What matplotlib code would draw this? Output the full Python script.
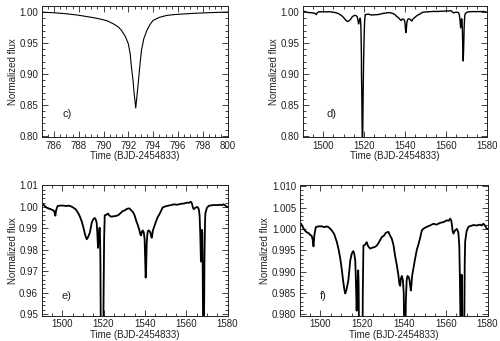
import matplotlib
matplotlib.use('Agg')
import matplotlib.pyplot as plt
from matplotlib.ticker import MultipleLocator, FormatStrFormatter

plt.rcParams['font.family'] = ['Liberation Sans', 'DejaVu Sans']
plt.rcParams['font.size'] = 7

# panel c) : single eclipse, zoomed in time
time_c = [785.0, 786.0, 787.0, 788.0, 788.6, 789.2, 789.7, 790.3, 790.8, 791.2,
          791.45, 791.75, 792.0, 792.15, 792.25, 792.38, 792.47, 792.6, 792.7, 792.8,
          792.93, 793.06, 793.25, 793.5, 793.75, 794.0, 794.5, 795.1, 795.8, 796.7,
          797.5, 798.4, 799.2, 800.0]
flux_c = [1.0000, 0.9990, 0.9974, 0.9950, 0.9930, 0.9910, 0.9890, 0.9860, 0.9810, 0.9760,
          0.9705, 0.9610, 0.9490, 0.9330, 0.9120, 0.8900, 0.8690, 0.8450, 0.8650, 0.8850,
          0.9130, 0.9380, 0.9570, 0.9705, 0.9800, 0.9866, 0.9915, 0.9947, 0.9962, 0.9974,
          0.9983, 0.9990, 0.9996, 1.0000]

# panels d), e), f) : the same light curve, different flux ranges
time = [1490.0, 1490.8, 1491.8, 1492.6, 1493.5, 1494.4, 1495.1, 1495.8, 1496.3, 1496.7,
        1497.1, 1497.8, 1499.0, 1500.7, 1502.0, 1503.0, 1503.9, 1504.8, 1505.5, 1506.6,
        1507.9, 1508.8, 1509.6, 1510.3, 1510.9, 1511.5, 1511.9, 1512.4, 1512.9, 1513.4,
        1513.9, 1514.3, 1514.9, 1515.4, 1515.8, 1516.2, 1516.7, 1517.0, 1517.2, 1517.35,
        1517.5, 1517.8, 1518.1, 1518.3, 1518.5, 1518.65, 1518.75, 1518.77, 1518.95, 1519.15,
        1519.35, 1519.55, 1519.8, 1520.05, 1520.3, 1520.6, 1521.2, 1521.8, 1522.2, 1522.8,
        1523.8, 1524.8, 1526.2, 1527.2, 1528.4, 1529.4, 1530.4, 1531.2, 1531.8, 1532.6,
        1533.4, 1534.2, 1535.0, 1535.8, 1536.6, 1537.4, 1537.8, 1538.2, 1538.6, 1539.0,
        1539.5, 1539.9, 1540.2, 1540.4, 1540.6, 1540.9, 1541.3, 1541.7, 1542.2, 1542.6,
        1543.0, 1543.3, 1543.6, 1543.9, 1544.6, 1545.4, 1546.2, 1546.9, 1547.8, 1548.6,
        1549.8, 1551.0, 1552.5, 1554.1, 1555.6, 1557.3, 1559.0, 1560.5, 1561.4, 1562.1,
        1562.6, 1562.9, 1563.3, 1563.7, 1564.4, 1565.3, 1565.8, 1566.1, 1566.5, 1566.8,
        1567.0, 1567.15, 1567.3, 1567.6, 1567.8, 1568.0, 1568.2, 1568.4, 1568.6, 1568.85,
        1569.1, 1569.3, 1570.0, 1570.9, 1572.0, 1573.3, 1574.8, 1576.5, 1577.3, 1578.0,
        1578.8, 1579.7, 1580.0]
flux = [1.0010, 1.0012, 1.0002, 0.9996, 0.9992, 0.9990, 0.9986, 0.9984, 0.9975, 0.9959,
        0.9985, 1.0004, 1.0006, 1.0006, 1.0004, 1.0006, 1.0004, 1.0000, 0.9996, 0.9988,
        0.9969, 0.9950, 0.9928, 0.9903, 0.9878, 0.9858, 0.9849, 0.9856, 0.9868, 0.9880,
        0.9905, 0.9926, 0.9940, 0.9946, 0.9948, 0.9942, 0.9926, 0.9880, 0.9841, 0.9809,
        0.9830, 0.9870, 0.9903, 0.9870, 0.9750, 0.9500, 0.9270, 0.9020, 0.8600, 0.7950,
        0.7950, 0.8600, 0.9200, 0.9600, 0.9850, 0.9961, 0.9962, 0.9966, 0.9969, 0.9960,
        0.9954, 0.9956, 0.9958, 0.9962, 0.9972, 0.9981, 0.9984, 0.9990, 0.9992, 0.9993,
        0.9984, 0.9977, 0.9962, 0.9936, 0.9915, 0.9890, 0.9872, 0.9867, 0.9885, 0.9890,
        0.9880, 0.9850, 0.9740, 0.9670, 0.9700, 0.9830, 0.9880, 0.9890, 0.9888, 0.9882,
        0.9868, 0.9856, 0.9870, 0.9890, 0.9910, 0.9932, 0.9952, 0.9963, 0.9980, 0.9997,
        1.0002, 1.0005, 1.0008, 1.0012, 1.0010, 1.0014, 1.0016, 1.0020, 1.0019, 1.0024,
        1.0020, 1.0012, 0.9995, 0.9989, 0.9996, 1.0000, 0.9995, 0.9989, 0.9960, 0.9880,
        0.9800, 0.9745, 0.9800, 0.9893, 0.9880, 0.9700, 0.9400, 0.9210, 0.9400, 0.9750,
        0.9920, 0.9970, 0.9995, 1.0005, 1.0007, 1.0009, 1.0008, 1.0010, 1.0008, 1.0012,
        1.0008, 1.0000, 1.0000]

xlabel = 'Time (BJD-2454833)'
ylabel = 'Normalized flux'

fig = plt.figure(figsize=(5.0, 3.41), dpi=100)

# [left, bottom, width, height], xlim, ylim, x major/minor, y major/minor, fmt, tag, tag pos, lw
panels = [
    ([0.083, 0.598, 0.372, 0.384], (785, 800), (0.798, 1.0097), (2, 0.5), (0.05, 0.01), '%.2f',
     'c)', (0.115, 0.15), 0.8, time_c, flux_c),
    ([0.605, 0.598, 0.369, 0.384], (1490, 1580), (0.798, 1.0097), (20, 5), (0.05, 0.01), '%.2f',
     'd)', (0.13, 0.15), 1.0, time, flux),
    ([0.083, 0.074, 0.372, 0.384], (1490, 1580), (0.9492, 1.0103), (20, 5), (0.01, 0.002), '%.2f',
     'e)', (0.11, 0.13), 1.3, time, flux),
    ([0.599, 0.074, 0.376, 0.384], (1490, 1580), (0.9797, 1.0103), (20, 5), (0.005, 0.001), '%.3f',
     'f)', (0.11, 0.13), 1.3, time, flux),
]

for rect, xl, yl, xt, yt, fmt, tag, tpos, lw, tx, fx in panels:
    ax = fig.add_axes(rect)
    ax.plot(tx, fx, color='black', linewidth=lw)
    ax.set_xlim(*xl)
    ax.set_ylim(*yl)
    ax.xaxis.set_major_locator(MultipleLocator(xt[0]))
    ax.xaxis.set_minor_locator(MultipleLocator(xt[1]))
    ax.yaxis.set_major_locator(MultipleLocator(yt[0]))
    ax.yaxis.set_minor_locator(MultipleLocator(yt[1]))
    ax.yaxis.set_major_formatter(FormatStrFormatter(fmt))
    ax.tick_params(which='both', direction='in', top=True, right=True,
                   width=0.6, colors='#222222', labelsize=7, pad=2.5)
    ax.tick_params(which='major', length=4)
    ax.tick_params(which='minor', length=2)
    for s in ax.spines.values():
        s.set_linewidth(0.7)
        s.set_color('#222222')
    ax.set_xlabel(xlabel, fontsize=7, labelpad=0.5, color='#222222')
    ax.set_ylabel(ylabel, fontsize=7, labelpad=1, color='#222222')
    ax.text(tpos[0], tpos[1], tag, transform=ax.transAxes, fontsize=8, color='#222222')

fig.savefig('out.png', dpi=100)
